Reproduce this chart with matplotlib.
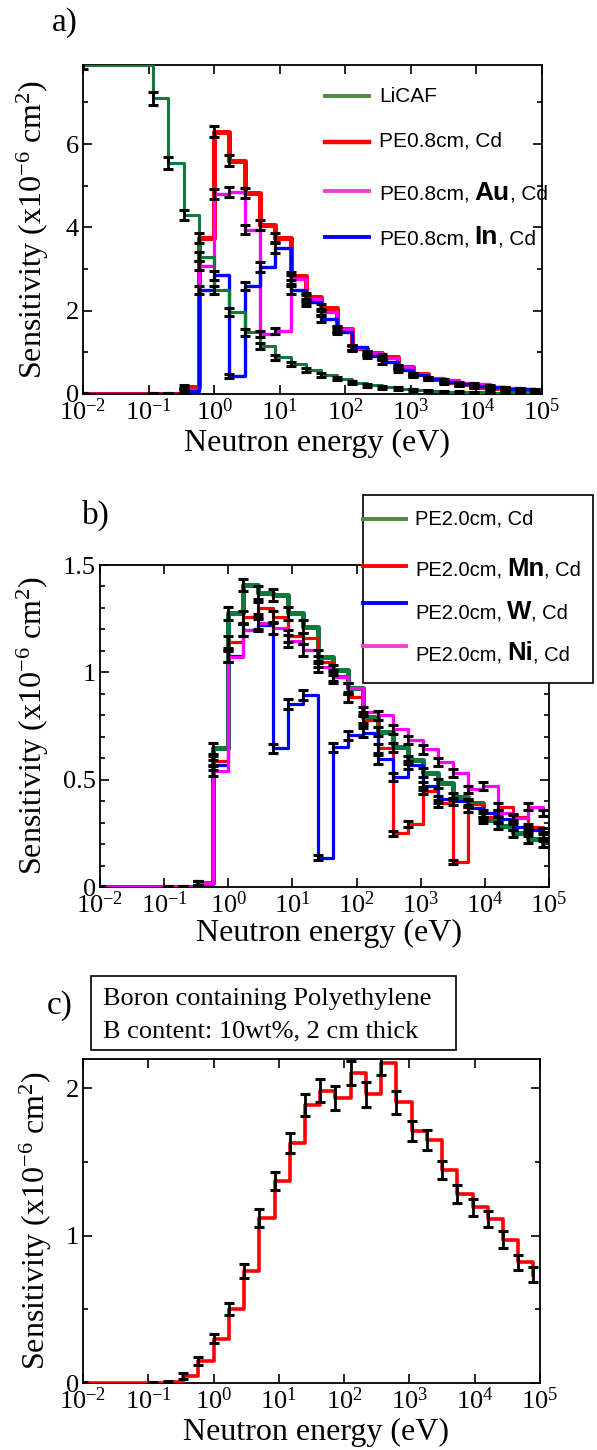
import matplotlib
matplotlib.use("Agg")
import matplotlib.pyplot as plt
from matplotlib.lines import Line2D
from matplotlib.patches import Rectangle
from matplotlib.ticker import LogLocator, MultipleLocator, NullLocator, FormatStrFormatter

plt.rcParams['font.family'] = ['Liberation Serif', 'DejaVu Serif']
plt.rcParams['mathtext.default'] = 'regular'

W, H = 597, 1450

# left edges of the energy bins (eV), one point per bin, drawn as steps
energy = [0.01, 0.1166, 0.1995, 0.3415, 0.5843, 1.0, 1.711, 2.929, 5.012, 8.577,
          14.68, 25.12, 42.98, 73.56, 125.9, 215.4, 368.6, 630.9, 1080, 1848,
          3162, 5411, 9261, 15850, 27120, 46420, 79430]

# ---- panel a
a_licaf = [7.9, 7.1, 5.55, 4.3, 3.3, 2.5, 1.97, 1.48, 1.16, 0.88, 0.72, 0.57, 0.46, 0.37,
           0.27, 0.21, 0.16, 0.13, 0.10, 0.08, 0.06, 0.05, 0.04, 0.03, 0.025, 0.02, 0.015]
a_licaf_err = [0.1, 0.15, 0.14, 0.12, 0.11, 0.1, 0.09, 0.08, 0.07, 0.06, 0.05, 0.05, 0.04, 0.04,
               0.04, 0.03, 0.03, 0.03, 0.03, 0.02, 0.02, 0.02, 0.02, 0.02, 0.02, 0.02, 0.02]
a_cd = [0, 0, 0, 0.16, 3.75, 6.3, 5.6, 4.83, 4.06, 3.75, 2.84, 2.33, 2.07, 1.57, 1.1, 0.99,
        0.9, 0.64, 0.47, 0.37, 0.29, 0.23, 0.18, 0.14, 0.11, 0.09, 0.06]
a_cd_err = [0.03, 0.03, 0.03, 0.05, 0.12, 0.14, 0.13, 0.12, 0.11, 0.11, 0.1, 0.09, 0.08, 0.07,
            0.06, 0.05, 0.05, 0.04, 0.04, 0.03, 0.03, 0.03, 0.03, 0.03, 0.03, 0.03, 0.03]
a_au = [0, 0, 0, 0.1, 3.08, 4.8, 4.85, 3.94, 1.45, 1.52, 2.75, 2.28, 1.97, 1.55, 1.11, 0.98,
        0.87, 0.65, 0.47, 0.38, 0.33, 0.26, 0.23, 0.18, 0.15, 0.12, 0.09]
a_au_err = [0.03, 0.03, 0.03, 0.05, 0.11, 0.12, 0.12, 0.11, 0.07, 0.07, 0.1, 0.09, 0.08, 0.07,
            0.06, 0.05, 0.05, 0.04, 0.04, 0.03, 0.03, 0.03, 0.03, 0.03, 0.03, 0.03, 0.03]
a_in = [0, 0, 0, 0.08, 2.5, 2.85, 0.43, 2.59, 3.05, 3.5, 2.49, 2.2, 1.8, 1.5, 1.12, 0.92,
        0.78, 0.58, 0.45, 0.36, 0.28, 0.23, 0.19, 0.16, 0.13, 0.11, 0.08]
a_in_err = [0.03, 0.03, 0.03, 0.05, 0.1, 0.11, 0.05, 0.1, 0.11, 0.12, 0.1, 0.09, 0.08, 0.07,
            0.06, 0.05, 0.05, 0.04, 0.04, 0.03, 0.03, 0.03, 0.03, 0.03, 0.03, 0.03, 0.03]

# ---- panel b
b_cd = [0, 0, 0, 0.02, 0.646, 1.275, 1.407, 1.371, 1.36, 1.275, 1.213, 1.073, 1.011, 0.925,
        0.79, 0.724, 0.65, 0.592, 0.533, 0.483, 0.421, 0.393, 0.312, 0.284, 0.25, 0.222, 0.2]
b_cd_err = [0.005, 0.005, 0.005, 0.01, 0.025, 0.03, 0.03, 0.03, 0.03, 0.03, 0.03, 0.03, 0.025,
            0.025, 0.025, 0.022, 0.022, 0.02, 0.02, 0.02, 0.018, 0.018, 0.016, 0.016, 0.015,
            0.015, 0.015]
b_mn = [0, 0, 0, 0.02, 0.587, 1.143, 1.26, 1.298, 1.26, 1.169, 1.158, 1.05, 0.985, 0.887,
        0.778, 0.646, 0.25, 0.293, 0.449, 0.39, 0.118, 0.387, 0.328, 0.374, 0.325, 0.281, 0.262]
b_mn_err = [0.005, 0.005, 0.005, 0.01, 0.025, 0.028, 0.028, 0.028, 0.028, 0.027, 0.027, 0.025,
            0.025, 0.023, 0.022, 0.02, 0.012, 0.013, 0.017, 0.016, 0.01, 0.016, 0.015, 0.016,
            0.015, 0.014, 0.014]
b_w = [0, 0, 0, 0.02, 0.568, 1.076, 1.197, 1.22, 0.646, 0.853, 0.894, 0.137, 0.65, 0.708,
       0.719, 0.595, 0.514, 0.568, 0.47, 0.408, 0.4, 0.366, 0.343, 0.315, 0.281, 0.266, 0.242]
b_w_err = [0.005, 0.005, 0.005, 0.01, 0.024, 0.027, 0.028, 0.028, 0.02, 0.022, 0.023, 0.01,
           0.02, 0.021, 0.021, 0.02, 0.018, 0.019, 0.017, 0.016, 0.016, 0.015, 0.015, 0.014,
           0.014, 0.013, 0.013]
b_ni = [0, 0, 0, 0.02, 0.542, 1.073, 1.197, 1.228, 1.205, 1.146, 1.104, 1.026, 0.977, 0.925,
        0.817, 0.80, 0.734, 0.685, 0.641, 0.584, 0.53, 0.455, 0.47, 0.343, 0.32, 0.374, 0.346]
b_ni_err = [0.005, 0.005, 0.005, 0.01, 0.024, 0.027, 0.028, 0.028, 0.028, 0.027, 0.027, 0.026,
            0.025, 0.024, 0.022, 0.022, 0.021, 0.02, 0.02, 0.019, 0.018, 0.017, 0.017, 0.015,
            0.015, 0.016, 0.015]

# ---- panel c
c_bpe = [0, 0, 0.005, 0.05, 0.15, 0.3, 0.505, 0.76, 1.12, 1.37, 1.63, 1.885, 1.985, 1.935,
         2.105, 1.96, 2.17, 1.905, 1.71, 1.65, 1.445, 1.285, 1.194, 1.114, 0.974, 0.82, 0.735]
c_bpe_err = [0.005, 0.005, 0.01, 0.02, 0.025, 0.03, 0.04, 0.05, 0.06, 0.062, 0.068, 0.074,
             0.08, 0.08, 0.083, 0.083, 0.08, 0.077, 0.07, 0.065, 0.063, 0.06, 0.058, 0.057,
             0.057, 0.052, 0.05]

GREEN = '#0f7a3c'
GREEN_KEY = '#4d8a3c'
RED = '#ff0000'
BLUE = '#0000ff'
MAGENTA = '#ff00ff'
MAGENTA_KEY = '#ee44cc'


def rect(left, top, right, bottom):
    return [left / W, 1 - bottom / H, (right - left) / W, (bottom - top) / H]


def draw_series(ax, y, err, color, lw, z):
    ax.plot(energy, y, drawstyle='steps-post', color=color, lw=lw, zorder=z)
    ax.errorbar(energy, y, yerr=err, fmt='none', ecolor='black', elinewidth=2.0,
                capsize=3.4, capthick=2.2, zorder=10)


def style_axes(ax, ymax, major, minor, ylab_x, xlab_y):
    ax.set_xscale('log')
    ax.set_xlim(1e-2, 1e5)
    ax.set_ylim(0, ymax)
    ax.xaxis.set_major_locator(LogLocator(base=10, numticks=12))
    ax.xaxis.set_minor_locator(NullLocator())
    ax.yaxis.set_major_locator(MultipleLocator(major))
    ax.yaxis.set_minor_locator(MultipleLocator(minor))
    ax.yaxis.set_major_formatter(FormatStrFormatter('%g'))
    ax.tick_params(which='both', direction='in', top=True, right=True, width=1.2,
                   labelsize=19, pad=3)
    ax.tick_params(which='major', length=6.5)
    ax.tick_params(which='minor', length=3.5)
    for s in ax.spines.values():
        s.set_linewidth(1.3)
    ax.set_xlabel('Neutron energy (eV)', fontsize=23, va='center')
    ax.set_ylabel('Sensitivity (x10$^{-6}$ cm$^{2}$)', fontsize=23, va='center')
    ax.yaxis.set_label_coords(ylab_x, 0.5)
    ax.xaxis.set_label_coords(0.51, xlab_y)


def key_row(fig, y_line, y_text, x0, x1, xt, color, lw, pieces, size, bsize):
    fig.add_artist(Line2D([x0 / W, x1 / W], [1 - y_line / H] * 2, color=color, lw=lw,
                          transform=fig.transFigure, zorder=8))
    r = fig.canvas.get_renderer()
    x = xt
    for s, bold, gap in pieces:
        t = fig.text(x / W, 1 - y_text / H, s, family='Liberation Sans',
                     fontsize=bsize if bold else size, weight='bold' if bold else 'normal',
                     va='baseline', ha='left', zorder=9)
        x = t.get_window_extent(r).x1 + gap


fig = plt.figure(figsize=(W / 100, H / 100), dpi=100)

# ---------------- a)
ax1 = fig.add_axes(rect(83, 65, 542, 394))
draw_series(ax1, a_cd, a_cd_err, RED, 3.6, 2)
draw_series(ax1, a_au, a_au_err, MAGENTA, 2.4, 3)
draw_series(ax1, a_in, a_in_err, BLUE, 2.4, 4)
draw_series(ax1, a_licaf, a_licaf_err, GREEN, 2.2, 5)
style_axes(ax1, 7.9, 2, 1, -0.109, -0.15)
fig.text(65 / W, 1 - 23 / H, 'a)', fontsize=24, ha='center', va='center')

key_row(fig, 96, 102, 325, 369, 379, GREEN_KEY, 2.8, [('LiCAF', False, 0)], 15, 19)
key_row(fig, 142, 146.5, 325, 369, 379, RED, 3.2, [('PE0.8cm, Cd', False, 0)], 15, 19)
key_row(fig, 191, 200, 325, 369, 379, MAGENTA_KEY, 2.8,
        [('PE0.8cm,', False, 5), ('Au', True, 0), (', Cd', False, 0)], 15, 19)
key_row(fig, 237, 244.5, 325, 369, 379, BLUE, 2.8,
        [('PE0.8cm,', False, 5), ('In', True, 0), (', Cd', False, 0)], 15, 19)

# ---------------- b)
ax2 = fig.add_axes(rect(100, 565, 549, 887))
draw_series(ax2, b_cd, b_cd_err, GREEN, 3.6, 2)
draw_series(ax2, b_mn, b_mn_err, RED, 2.3, 3)
draw_series(ax2, b_w, b_w_err, BLUE, 2.3, 4)
draw_series(ax2, b_ni, b_ni_err, MAGENTA, 2.3, 5)
style_axes(ax2, 1.5, 0.5, 0.1, -0.149, -0.143)
fig.text(96 / W, 1 - 515 / H, 'b)', fontsize=24, ha='center', va='center')

fig.add_artist(Rectangle((363 / W, 1 - 683 / H), (593 - 363) / W, (683 - 495) / H,
                         transform=fig.transFigure, facecolor='white', edgecolor='black',
                         lw=1.2, zorder=7))
key_row(fig, 519, 525, 363, 406, 415, GREEN_KEY, 2.8, [('PE2.0cm, Cd', False, 0)], 14.5, 18.5)
key_row(fig, 566, 575.5, 363, 406, 415, RED, 2.8,
        [('PE2.0cm,', False, 5), ('Mn', True, 0), (', Cd', False, 0)], 14.5, 18.5)
key_row(fig, 603, 619, 363, 406, 415, BLUE, 2.8,
        [('PE2.0cm,', False, 5), ('W', True, 0), (', Cd', False, 0)], 14.5, 18.5)
key_row(fig, 646, 660.5, 363, 406, 415, MAGENTA_KEY, 2.8,
        [('PE2.0cm,', False, 5), ('Ni', True, 0), (', Cd', False, 0)], 14.5, 18.5)

# ---------------- c)
ax3 = fig.add_axes(rect(83, 1059, 540, 1383))
draw_series(ax3, c_bpe, c_bpe_err, RED, 2.6, 3)
style_axes(ax3, 2.2, 1, 0.5, -0.104, -0.154)
fig.text(60 / W, 1 - 1006 / H, 'c)', fontsize=24, ha='center', va='center')
fig.add_artist(Rectangle((91 / W, 1 - 1050 / H), (456 - 91) / W, (1050 - 976) / H,
                         transform=fig.transFigure, facecolor='none', edgecolor='black',
                         lw=1.2))
fig.text(103 / W, 1 - 999 / H, 'Boron containing Polyethylene', fontsize=19, va='center')
fig.text(103 / W, 1 - 1031 / H, 'B content: 10wt%, 2 cm thick', fontsize=19, va='center')

fig.savefig('out.png', dpi=100)
